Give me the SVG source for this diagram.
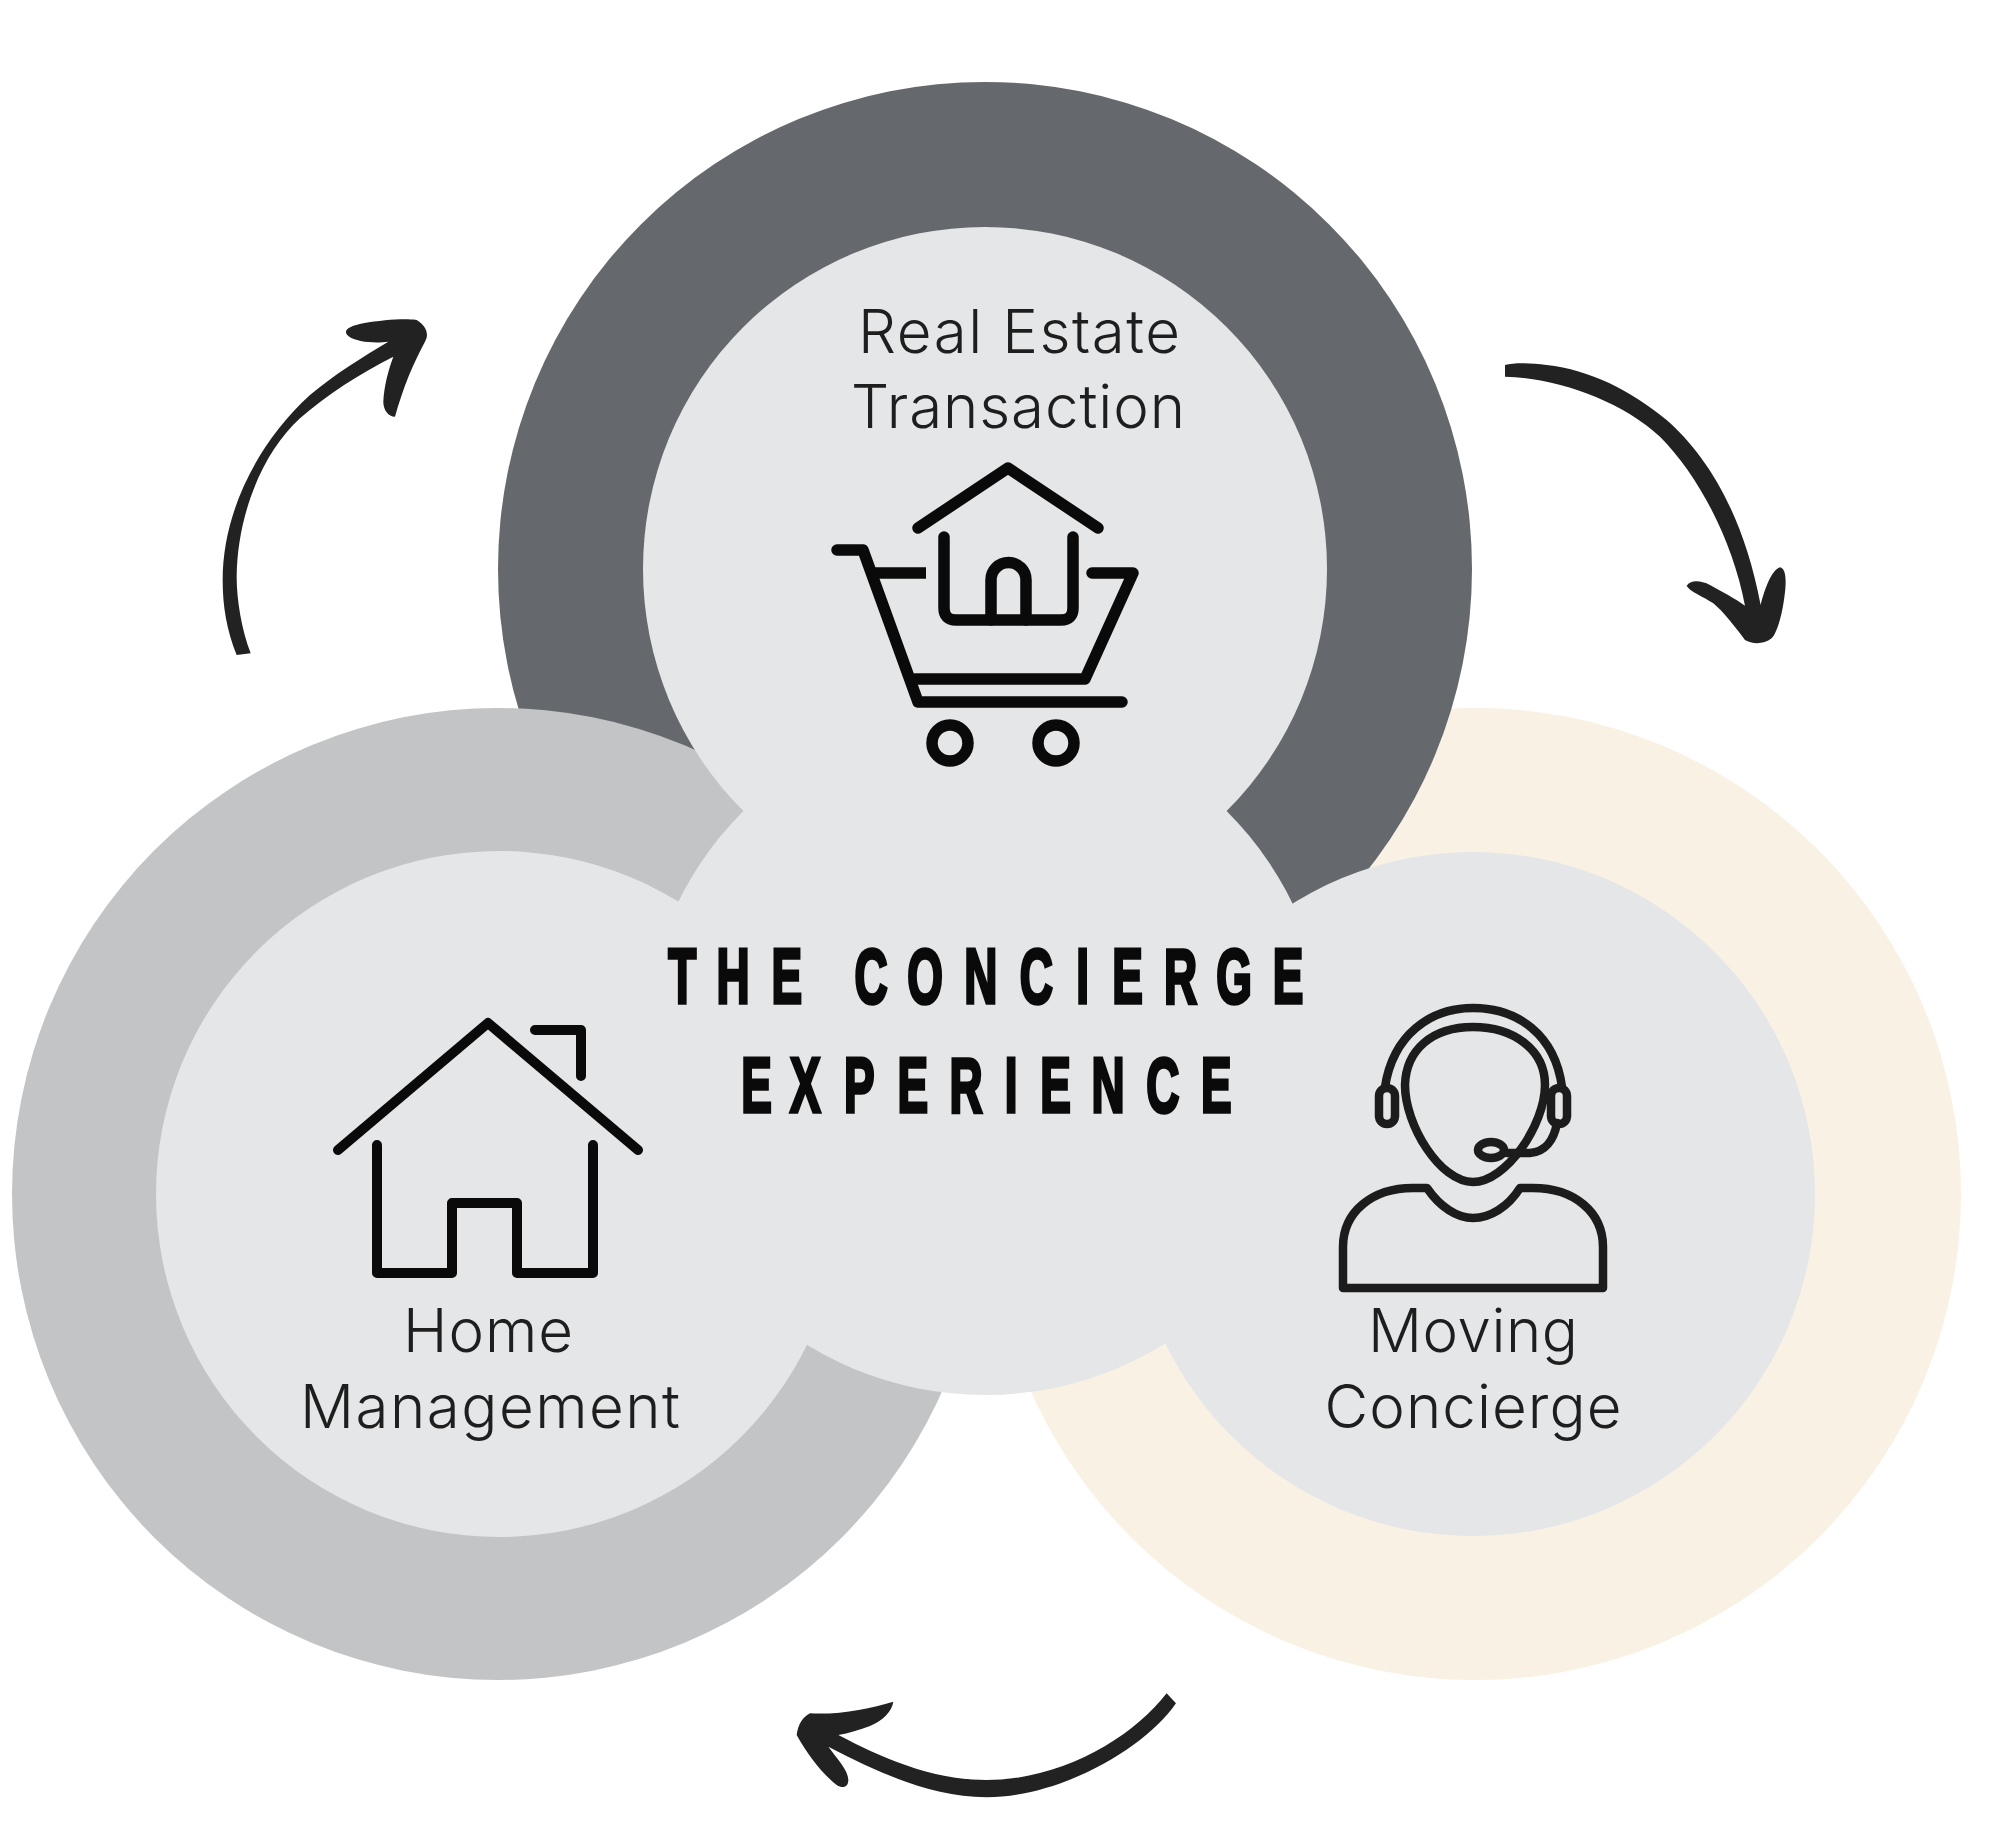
<svg xmlns="http://www.w3.org/2000/svg" width="1989" height="1825" viewBox="0 0 1989 1825">
<style>
.inner{fill:#e4e6e8}
.lbl{font-family:"Inter","Open Sans",sans-serif;font-size:60px;fill:#1e1e1e;text-anchor:middle;font-weight:300}
.title{font-family:"Liberation Sans",Arial,sans-serif;font-weight:700;font-size:74px;fill:#0a0a0a;stroke:#0a0a0a;stroke-width:3.500;text-anchor:middle}
.ico{fill:none;stroke:#0a0a0a;stroke-width:10;stroke-linecap:round;stroke-linejoin:round}
.cart{stroke-width:11.500}
.thin{stroke:#1c1c1c;stroke-width:8.500}
.arr{fill:#222}
</style>
<rect width="1989" height="1825" fill="#fff"/>
<g id="rings">
<circle cx="1475" cy="1194" r="486" fill="#f9f1e4"/>
<circle cx="985" cy="569" r="487" fill="#65686c"/>
<circle cx="498" cy="1194" r="486" fill="#c2c4c6"/>
<circle class="inner" cx="985" cy="1053" r="342"/>
</g>
<g id="node-moving">
<circle class="inner" cx="1473" cy="1194" r="342"/>
<path class="ico thin" d="M1473 1027C1432 1027 1406 1050 1405 1085C1405 1125 1440 1182 1473 1182C1506 1182 1545 1125 1545 1085C1545 1050 1514 1027 1473 1027Z"/>
<path class="ico thin" d="M1385 1087C1393 1035 1430 1008 1473 1008C1518 1008 1555 1035 1562 1087"/>
<rect class="ico thin" x="1379" y="1088" width="16" height="36" rx="8"/>
<rect class="ico thin" x="1551" y="1088" width="16" height="36" rx="8"/>
<ellipse class="ico thin" cx="1491" cy="1150" rx="13" ry="8"/>
<path class="ico thin" d="M1507 1153L1530 1153C1545 1152 1554 1140 1557 1123"/>
<path class="ico thin" d="M1343 1288L1343 1247C1343 1212 1372 1188 1413 1188L1427 1188C1440 1207 1457 1218 1473 1218C1490 1218 1508 1207 1520 1188L1533 1188C1574 1188 1603 1212 1603 1247L1603 1288Z"/>
<text class="lbl" x="1473" y="1352" textLength="210">Moving</text>
<text class="lbl" x="1473" y="1428" textLength="297">Concierge</text>
</g>
<g id="node-home">
<circle class="inner" cx="499" cy="1194" r="343"/>
<path class="ico" d="M338 1150L488 1023L638 1150"/>
<path class="ico" d="M535 1030L581 1030L581 1076"/>
<path class="ico" d="M377 1145L377 1273L452 1273L452 1203L517 1203L517 1273L593 1273L593 1145"/>
<text class="lbl" x="488" y="1352" textLength="170">Home</text>
<text class="lbl" x="490" y="1428" textLength="380">Management</text>
</g>
<g id="node-real-estate">
<circle class="inner" cx="985" cy="569" r="342"/>
<path class="ico cart" d="M918 528L1008 468L1098 528"/>
<path class="ico cart" d="M944 537L944 608Q944 620 956 620L1061 620Q1073 620 1073 608L1073 537"/>
<path class="ico cart" d="M991 620L991 580A17.500 17.500 0 0 1 1026 580L1026 620"/>
<path class="ico cart" d="M837 550L863 550L918 702L1122 702"/>
<path class="ico cart" d="M873 573L926 573" style="stroke-linecap:butt"/>
<path class="ico cart" d="M1092 573L1133 573L1085 679L915 679"/>
<circle class="ico cart" cx="950" cy="743" r="18"/>
<circle class="ico cart" cx="1056" cy="743" r="18"/>
<text class="lbl" x="1019" y="353" textLength="322">Real Estate</text>
<text class="lbl" x="1018" y="428" textLength="334">Transaction</text>
</g>
<g id="node-center">
<g transform="scale(0.62 1.06)">
<text class="title" y="946.700" x="1100.600 1182.400 1269.200 1334.700 1404.800 1491.900 1581.900 1671.300 1746.100 1818.500 1904.200 1990.600 2077.700">THE CONCIERGE</text>
<text class="title" y="1049" x="1220.200 1298.700 1386.100 1472.300 1558 1631 1702.600 1787.300 1875.500 1961.800">EXPERIENCE</text>
</g>
</g>
<g id="connectors">
<path class="arr" transform="translate(200 300) scale(.3333)" d="M110 1065C80 990 68 920 68 840C68 640 170 430 330 285C400 225 490 170 565 125C530 130 470 128 445 108C425 90 450 78 490 70C550 60 610 55 650 60C675 75 690 100 675 125C640 190 610 260 585 350C565 350 550 330 550 305C552 260 565 210 580 170C480 220 380 285 300 355C190 455 112 640 110 830C110 900 125 990 152 1060Z"/>
<path class="arr" transform="translate(1490 340) scale(.3333)" d="M45 75C70 68 120 68 170 75C300 90 420 150 530 240C650 345 760 520 812 795C825 745 845 690 870 682C890 685 890 730 882 780C875 830 860 880 845 895C820 915 785 912 765 900C735 860 700 815 670 790C640 770 600 755 590 738C600 720 630 720 660 735C695 755 735 775 765 797C730 610 630 410 510 290C390 180 200 115 45 110Z"/>
<path class="arr" transform="translate(780 1680) scale(.3333)" d="M1160 40L1188 70C1100 200 850 350 620 352C450 350 300 280 145 200C170 235 205 270 205 300C205 320 190 328 170 315C125 280 80 220 50 165C55 130 70 110 90 100C180 105 270 85 340 65C335 95 310 120 270 138C240 150 205 160 175 165C300 230 450 300 620 300C850 300 1060 170 1160 40Z"/>
</g>
</svg>
